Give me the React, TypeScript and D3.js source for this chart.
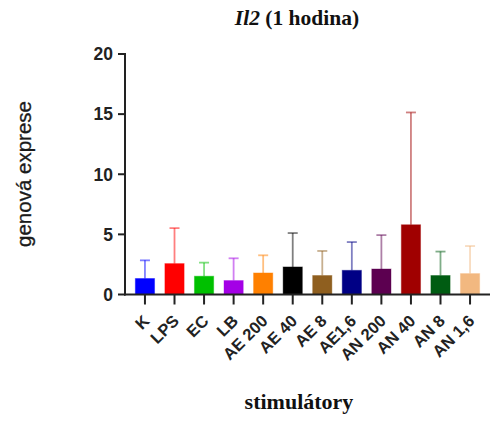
import React from 'react';
import * as d3 from 'd3';

const categories = ['K', 'LPS', 'EC', 'LB', 'AE 200', 'AE 40', 'AE 8', 'AE1,6', 'AN 200', 'AN 40', 'AN 8', 'AN 1,6'];
const means = [1.33, 2.57, 1.52, 1.16, 1.79, 2.29, 1.58, 2.01, 2.12, 5.8, 1.58, 1.74];
const errorTops = [2.84, 5.52, 2.65, 3.01, 3.26, 5.11, 3.62, 4.36, 4.94, 15.14, 3.57, 4.03];
const colors = ['#0000ff', '#ff0000', '#00c000', '#a400e6', '#ff8000', '#000000', '#8f5f1f', '#000085', '#5c0050', '#a00000', '#005c12', '#f2b880'];
const yTicks = [0, 5, 10, 15, 20];

const width = 492;
const height = 443;

const App = () => {
    const x = d3.scaleBand<string>()
        .domain(categories)
        .range([125, 490])
        .paddingInner(0.35)
        .paddingOuter(0.35);

    const y = d3.scaleLinear()
        .domain([0, 20])
        .range([294.5, 54]);

    const bw = x.bandwidth();
    const axisColor = '#222';
    const sans = 'Liberation Sans, Arial, sans-serif';
    const serif = 'Liberation Serif, Times New Roman, serif';

    return (
        <svg width={width} height={height} style={{ position: 'absolute', left: 0, top: 0, background: '#fff' }}>
            {/* title */}
            <text x={297} y={25} textAnchor="middle" fontFamily={serif} fontWeight="bold" fontSize={21.5} fill="#111">
                <tspan fontStyle="italic">Il2</tspan> (1 hodina)
            </text>

            {/* bars + error bars (upper only) */}
            {categories.map((c, i) => {
                const cx = x(c)! + bw / 2;
                return (
                    <g key={c}>
                        <line x1={cx} x2={cx} y1={y(means[i])} y2={y(errorTops[i])} stroke={colors[i]} strokeOpacity={0.5} strokeWidth={1.8} />
                        <line x1={cx - 5} x2={cx + 5} y1={y(errorTops[i])} y2={y(errorTops[i])} stroke={colors[i]} strokeOpacity={0.5} strokeWidth={1.8} />
                        <rect x={x(c)} y={y(means[i])} width={bw} height={y(0) - y(means[i])} fill={colors[i]} stroke={colors[i]} strokeOpacity={0.4} strokeWidth={1} />
                    </g>
                );
            })}

            {/* y axis */}
            <line x1={125} x2={125} y1={y(20) - 1} y2={y(0) + 1} stroke={axisColor} strokeWidth={2} />
            {yTicks.map(t => (
                <g key={t}>
                    <line x1={118} x2={125} y1={y(t)} y2={y(t)} stroke={axisColor} strokeWidth={2} />
                    <text x={113} y={y(t)} dy="0.36em" textAnchor="end" fontFamily={sans} fontWeight="bold" fontSize={17.5} fill="#222">{t}</text>
                </g>
            ))}

            {/* x axis */}
            <line x1={124} x2={490} y1={y(0)} y2={y(0)} stroke={axisColor} strokeWidth={2} />
            {categories.map(c => {
                const cx = x(c)! + bw / 2;
                return (
                    <g key={c}>
                        <line x1={cx} x2={cx} y1={y(0)} y2={y(0) + 10} stroke={axisColor} strokeWidth={2} />
                        <text transform={`translate(${cx + 5.5},${y(0) + 27.5}) rotate(-45)`} textAnchor="end" fontFamily={sans} fontWeight="bold" fontSize={16.5} fill="#222">{c}</text>
                    </g>
                );
            })}

            {/* axis titles */}
            <text transform="translate(31,174) rotate(-90)" textAnchor="middle" fontFamily={sans} fontSize={20.5} fill="#1a1a1a" stroke="#1a1a1a" strokeWidth={0.3}>genová exprese</text>
            <text x={299} y={409} textAnchor="middle" fontFamily={serif} fontWeight="bold" fontSize={22} fill="#111">stimulátory</text>
        </svg>
    );
};

export default App;
